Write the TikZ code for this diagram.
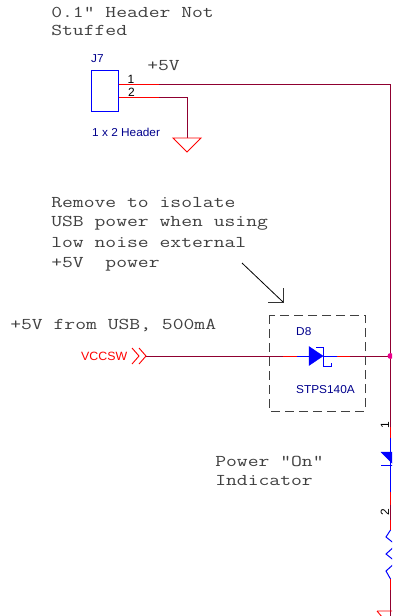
\documentclass[tikz,border=0pt]{standalone}
\usepackage{fontspec}
\setmainfont{Liberation Sans}
\begin{document}
\begin{tikzpicture}[x=1pt,y=-1pt]
    \tikzset{note/.style={font=\ttfamily\fontsize{16.5}{17}\selectfont,text=black!75,anchor=west,inner sep=0pt,xscale=1.275}}
    \tikzset{part/.style={font=\fontsize{11.5}{12}\selectfont,text=blue!55!black,anchor=west,inner sep=0pt,xscale=1.03}}
    \tikzset{pin/.style={font=\fontsize{12}{12}\selectfont,text=black,inner sep=0pt}}
    \tikzset{wire/.style={draw=purple!75!black,line width=1pt}}
    \tikzset{lead/.style={draw=red,line width=1pt}}
    \tikzset{body/.style={draw=blue,line width=1pt}}
    \tikzset{gnd/.style={draw=red,line width=0.9pt}}

    \useasboundingbox (0,0) rectangle (392,616);
    \clip (0,0) rectangle (392,616);

    % notes
    \node[note] (nothdr) at (51,12) {0.1" Header Not};
    \node[note] (stuffed) at (51,30) {Stuffed};
    \node[note] (vplus) at (147,66) {+5V};
    \node[note] (rem1) at (51,203) {Remove to isolate};
    \node[note] (rem2) at (51,223) {USB power when using};
    \node[note] (rem3) at (51,243) {low noise external};
    \node[note] (rem4) at (51,264) {+5V\ \ power};
    \node[note] (usb) at (10,325) {+5V from USB, 500mA};
    \node[note] (on1) at (215,461) {Power "On"};
    \node[note] (on2) at (215,481) {Indicator};

    % header J7
    \node[part] (j7) at (91,59) {J7};
    \node[part] (hdr) at (92,132) {1 x 2 Header};
    \node[pin] (p1) at (131,79) {1};
    \node[pin] (p2) at (131.5,92.5) {2};
    \node[body,minimum width=27pt,minimum height=41pt,inner sep=0pt] (j) at (105,90.5) {};
    \coordinate (a1) at (118.5,84);
    \coordinate (a2) at (159,84);
    \coordinate (a3) at (390.5,84);
    \coordinate (b1) at (118.5,97);
    \coordinate (b2) at (159,97);
    \coordinate (b3) at (187,97);
    \coordinate (b4) at (187,138);
    \path[wire] (a2) -- (a3) -- (390.5,640);
    \path[lead] (a1) -- (a2);
    \path[wire] (b2) -- (b3) -- (b4);
    \path[lead] (b1) -- (b2);
    \path[gnd] (173,138) -- (201,138) -- (187,152) -- cycle;

    % VCCSW and D8
    \node[font=\fontsize{12}{12}\selectfont,text=red,anchor=west,inner sep=0pt,xscale=1.03] (vcc) at (81,356) {VCCSW};
    \coordinate (c0) at (146,356);
    \coordinate (c1) at (283,356);
    \coordinate (c2) at (297,356);
    \coordinate (c3) at (309,356);
    \coordinate (c4) at (323,356);
    \coordinate (c5) at (337,356);
    \coordinate (c6) at (350,356);
    \coordinate (c7) at (390.5,356);
    \path[wire] (c0) -- (c1);
    \path[lead] (c1) -- (c2);
    \path[body] (c2) -- (c3);
    \path[body] (c4) -- (c5);
    \path[lead] (c5) -- (c6);
    \path[wire] (c6) -- (c7);
    \path[draw=red,line width=0.9pt] (132,348) -- (139,356) -- (132,364);
    \path[draw=red,line width=0.9pt] (139,348) -- (146,356) -- (139,364);
    \fill[magenta] (c7) circle (3pt);
    \path[fill=blue,draw=blue] (309,346.5) -- (c4) -- (309,365.5) -- cycle;
    \path[body] (316,347) -- (323,347) -- (323,366) -- (331,366) -- (331,363);
    \node[part] (d8) at (296,332) {D8};
    \node[part] (stps) at (296,390) {STPS140A};
    \draw[dash pattern=on 9pt off 5pt,black!75,line width=1pt] (269,315) rectangle (365,411);

    % arrow to the box
    \coordinate (m1) at (242,263);
    \coordinate (m2) at (283,302);
    \draw[black,line width=0.8pt] (m1) -- (m2);
    \draw[black!80,line width=1pt] (268,302) -- (m2) -- (283,288);

    % power indicator
    \node[pin,rotate=90] (l1) at (385,425) {1};
    \node[pin,rotate=90] (l2) at (385,512) {2};
    \path[lead] (390.5,427) -- (390.5,438);
    \path[body] (390.5,438) -- (390.5,492);
    \path[lead] (390.5,492) -- (390.5,505);
    \path[draw=white,line width=2pt] (390.5,530) -- (390.5,579);
    \path[lead] (390.5,520) -- (390.5,530);
    \path[body] (390.5,530) -- (386,537) -- (396,545) -- (386,554) -- (396,562) -- (386,571) -- (390.5,579);
    \path[lead] (390.5,579) -- (390.5,590);
    \path[fill=blue,draw=blue] (381,452) -- (393,452) -- (393,464) -- cycle;
    \path[body] (381,465) -- (393,465);
    \path[gnd] (377,611) -- (393,611) -- (393,630) -- (377,611);
\end{tikzpicture}
\end{document}
